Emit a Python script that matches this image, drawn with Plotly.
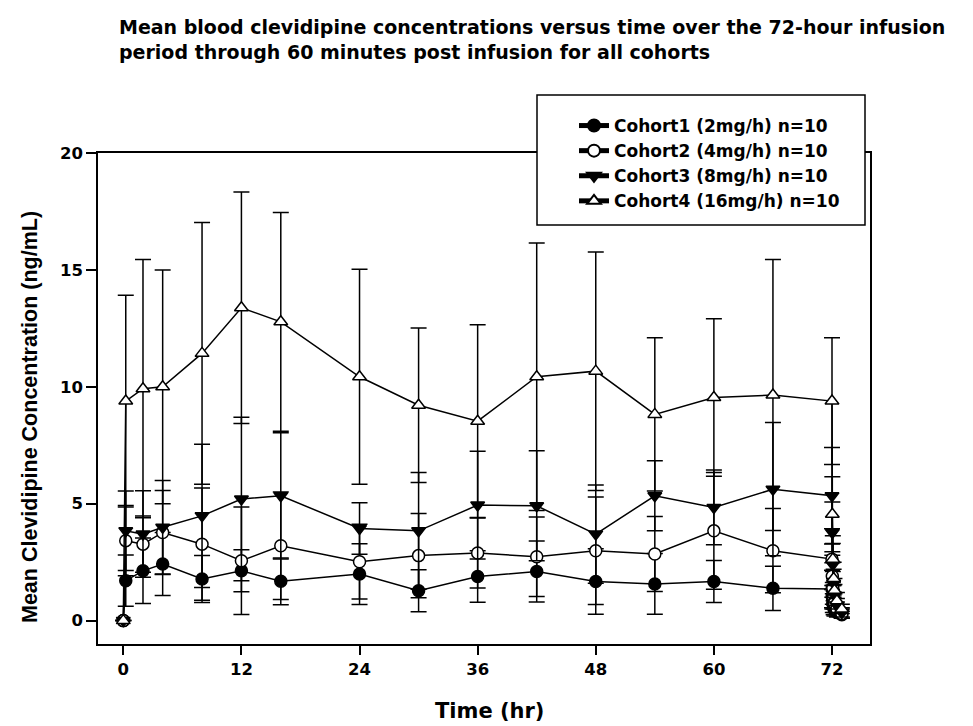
import plotly.graph_objects as go

# Time points (hr): pre-dose, infusion samples, then post-infusion (2,5,10,15,30,60 min)
time_hr = [0, 0.25, 2, 4, 8, 12, 16, 24, 30, 36, 42, 48, 54, 60, 66, 72,
           72.033, 72.083, 72.167, 72.25, 72.5, 73]

c1_mean = [0, 1.71, 2.13, 2.42, 1.78, 2.13, 1.68, 1.99, 1.28, 1.89, 2.10, 1.67, 1.57, 1.67, 1.38, 1.35,
           1.00, 0.75, 0.55, 0.45, 0.35, 0.25]
c1_sd = [0, 1.10, 1.40, 1.35, 1.00, 0.90, 1.00, 1.30, 0.90, 1.10, 1.30, 1.40, 1.30, 0.90, 0.95, 0.80,
         0.50, 0.40, 0.30, 0.25, 0.20, 0.15]

c2_mean = [0, 3.42, 3.27, 3.77, 3.27, 2.56, 3.20, 2.52, 2.78, 2.89, 2.73, 2.99, 2.85, 3.84, 2.99, 2.63,
           1.90, 1.40, 1.00, 0.75, 0.50, 0.30]
c2_sd = [0, 1.50, 1.20, 1.80, 2.40, 2.30, 2.30, 1.60, 1.80, 1.50, 1.70, 2.30, 1.60, 2.50, 1.80, 1.30,
         0.90, 0.70, 0.50, 0.40, 0.30, 0.20]

c3_mean = [0, 3.84, 3.70, 3.99, 4.48, 5.20, 5.34, 3.94, 3.84, 4.94, 4.91, 3.70, 5.34, 4.84, 5.62, 5.34,
           3.77, 2.40, 1.60, 1.10, 0.65, 0.35]
c3_sd = [0, 1.70, 1.85, 2.00, 3.06, 3.50, 2.70, 1.10, 2.50, 2.30, 2.35, 2.10, 1.50, 1.60, 2.85, 2.06,
         1.30, 0.90, 0.60, 0.45, 0.30, 0.20]

c4_mean = [0, 9.39, 9.92, 10.00, 11.43, 13.38, 12.78, 10.43, 9.21, 8.53, 10.43, 10.67, 8.82, 9.54, 9.65, 9.39,
           4.55, 2.63, 1.80, 1.30, 0.85, 0.50]
c4_sd = [0, 4.53, 5.52, 5.00, 5.60, 4.95, 4.68, 4.60, 3.30, 4.12, 5.72, 5.10, 3.28, 3.37, 5.80, 2.71,
         1.60, 1.00, 0.70, 0.50, 0.35, 0.20]

names = ["Cohort1 (2mg/h) n=10", "Cohort2 (4mg/h) n=10",
         "Cohort3 (8mg/h) n=10", "Cohort4 (16mg/h) n=10"]
x_ticks = [0, 12, 24, 36, 48, 60, 72]
y_ticks = [0, 5, 10, 15, 20]

series = [
    (names[0], c1_mean, c1_sd, "circle", "black"),
    (names[1], c2_mean, c2_sd, "circle", "white"),
    (names[2], c3_mean, c3_sd, "triangle-down", "black"),
    (names[3], c4_mean, c4_sd, "triangle-up", "white"),
]

WIDE = "DejaVu Sans, sans-serif"
NARROW = "Liberation Sans, Arial, sans-serif"

fig = go.Figure()
for name, m, s, sym, fill in series:
    fig.add_trace(go.Scatter(
        x=time_hr, y=m, mode="lines+markers", name=name,
        line=dict(color="black", width=1.5),
        marker=dict(symbol=sym, size=12, color=fill, line=dict(color="black", width=1.5)),
        error_y=dict(type="data", array=s, visible=True, color="black", thickness=1.5, width=8),
    ))

# the page body adds an 8px offset, so figure coords = screen coords - 8
OFF = 8
def px(v):
    return v - OFF

L, R, T, B = px(98), px(870), px(153), px(644)
W, H = R - L, B - T

def fx(v):
    return (px(v) - L) / W

def fy(v):
    return (B - px(v)) / H

fig.update_layout(
    width=973, height=726,
    paper_bgcolor="white", plot_bgcolor="white",
    margin=dict(l=L, r=973 - R, t=T, b=726 - B, autoexpand=False),
    showlegend=True,
    legend=dict(
        x=fx(574), y=fy(108), xanchor="left", yanchor="top",
        bgcolor="rgba(0,0,0,0)", borderwidth=0,
        font=dict(family=WIDE, size=17, color="black", weight="bold"),
        tracegroupgap=0, itemsizing="constant",
    ),
    font=dict(family=WIDE, color="black"),
)

# legend frame (white box over the plot)
fig.add_shape(
    type="rect", xref="paper", yref="paper",
    x0=fx(537), x1=fx(865), y0=fy(225), y1=fy(95),
    fillcolor="white", line=dict(color="black", width=1.5), layer="above",
)

fig.update_xaxes(
    range=[(L - px(123.3)) / 9.843, (R - px(123.3)) / 9.843],
    tickvals=x_ticks, ticktext=[str(v) for v in x_ticks],
    ticks="outside", ticklen=9, tickwidth=1.5, tickcolor="black",
    showline=True, linecolor="black", linewidth=1.5, mirror=True,
    showgrid=False, zeroline=False, automargin=False,
    tickfont=dict(family=WIDE, size=16.5, color="black", weight="bold"),
)
fig.update_yaxes(
    range=[-1, 20], tickvals=y_ticks, ticktext=[str(v) for v in y_ticks],
    ticks="outside", ticklen=10, tickwidth=1.5, tickcolor="black",
    showline=True, linecolor="black", linewidth=1.5, mirror=True,
    showgrid=False, zeroline=False, automargin=False,
    tickfont=dict(family=WIDE, size=16.5, color="black", weight="bold"),
)

# axis titles
fig.add_annotation(
    xref="paper", yref="paper", x=fx(489), y=fy(711),
    xanchor="center", yanchor="middle", showarrow=False, text="Time (hr)",
    font=dict(family=WIDE, size=21, color="black", weight="bold"),
)
fig.add_annotation(
    xref="paper", yref="paper", x=fx(30), y=fy(417),
    xanchor="center", yanchor="middle", showarrow=False, textangle=-90,
    text="Mean Clevidipine Concentration (ng/mL)",
    font=dict(family=NARROW, size=21.5, color="black", weight="bold"),
)
# chart title
fig.add_annotation(
    xref="paper", yref="paper", x=fx(117), y=fy(14),
    xanchor="left", yanchor="top", align="left", showarrow=False,
    text="Mean blood clevidipine concentrations versus time over the 72-hour infusion<br>"
         "period through 60 minutes post infusion for all cohorts",
    font=dict(family=WIDE, size=19, color="black", weight="bold"),
)

fig.write_html("out.html")
